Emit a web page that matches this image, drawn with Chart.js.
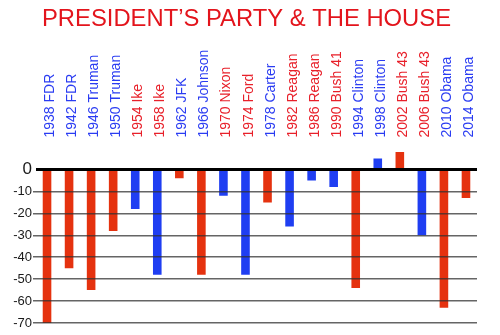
<!DOCTYPE html>
<html>
<head>
<meta charset="utf-8">
<script src="https://cdn.jsdelivr.net/npm/chart.js@4/dist/chart.umd.min.js"></script>
<style>
  html, body { margin: 0; padding: 0; background: #fff; }
  #wrap { width: 500px; height: 335px; }
</style>
</head>
<body>
<div id="wrap"><canvas id="houseChart" width="500" height="335"></canvas></div>
<script>
// midterm House seat change for the president's party
const elections = ['1938 FDR', '1942 FDR', '1946 Truman', '1950 Truman', '1954 Ike', '1958 Ike',
  '1962 JFK', '1966 Johnson', '1970 Nixon', '1974 Ford', '1978 Carter', '1982 Reagan',
  '1986 Reagan', '1990 Bush 41', '1994 Clinton', '1998 Clinton', '2002 Bush 43', '2006 Bush 43',
  '2010 Obama', '2014 Obama'];
const parties = ['D', 'D', 'D', 'D', 'R', 'R', 'D', 'D', 'R', 'R', 'D', 'R', 'R', 'R', 'D', 'D',
  'R', 'R', 'D', 'D'];
const seatChange = [-70, -45, -55, -28, -18, -48, -4, -48, -12, -48, -15, -26, -5, -8, -54, 5, 8,
  -30, -63, -13];
const yTicks = [0, -10, -20, -30, -40, -50, -60, -70];

const RED = '#e5320f';
const BLUE = '#1f3ef2';
const LABEL_RED = '#e8202a';
const LABEL_BLUE = '#2a3cf2';
const FONT = '"Liberation Sans", Arial, Helvetica, sans-serif';

// a gain shows in the president's colour, a loss in the other party's
const barColors = seatChange.map((v, i) => ((v >= 0) === (parties[i] === 'D')) ? BLUE : RED);

new Chart(document.getElementById('houseChart'), {
  type: 'bar',
  data: {
    labels: elections,
    datasets: [{
      data: seatChange,
      backgroundColor: barColors,
      borderWidth: 0,
      barPercentage: 0.39,
      categoryPercentage: 1
    }]
  },
  options: {
    responsive: false,
    animation: false,
    layout: { padding: { left: 0, right: 7, top: 0, bottom: 12 } },
    plugins: {
      legend: { display: false },
      tooltip: { enabled: false },
      title: {
        display: true,
        text: 'PRESIDENT\u2019S PARTY & THE HOUSE',
        color: '#e3141c',
        font: { family: FONT, size: 23.8, weight: 'normal' },
        padding: { top: 5, bottom: 14 }
      }
    },
    scales: {
      x: {
        position: 'top',
        grid: { display: false, drawTicks: false },
        border: { display: false },
        afterFit: s => { s.height = 100; },
        ticks: {
          autoSkip: false,
          minRotation: 90,
          maxRotation: 90,
          padding: 10,
          labelOffset: 20,
          font: { family: FONT, size: 14 },
          color: ctx => parties[ctx.index] === 'D' ? LABEL_BLUE : LABEL_RED
        }
      },
      y: {
        min: -70,
        max: 10,
        afterBuildTicks: s => { s.ticks = yTicks.map(v => ({ value: v })); },
        afterFit: s => { s.width = 36; },
        border: { display: false },
        grid: {
          z: 1,
          tickLength: 3,
          color: ctx => ctx.tick && ctx.tick.value === 0 ? '#000' : 'rgba(50,50,50,0.75)',
          tickColor: ctx => ctx.tick && ctx.tick.value === 0 ? 'rgba(0,0,0,0)' : 'rgba(50,50,50,0.75)',
          lineWidth: ctx => ctx.tick && ctx.tick.value === 0 ? 3 : 1.5
        },
        ticks: {
          padding: 1,
          color: '#1a1a1a',
          font: ctx => ({ family: FONT, size: ctx.tick && ctx.tick.value === 0 ? 17 : 13 })
        }
      },
      // empty right-hand gutter so the plot ends short of the canvas edge
      gutter: {
        axis: 'y',
        position: 'right',
        grid: { display: false, drawTicks: false },
        border: { display: false },
        ticks: { display: false },
        afterFit: s => { s.width = 16; }
      }
    }
  }
});
</script>
</body>
</html>
